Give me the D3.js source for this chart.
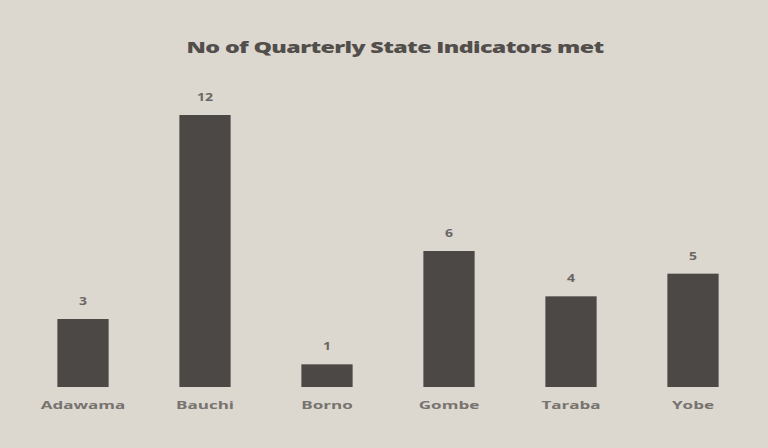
<!DOCTYPE html>
<html><head><meta charset="utf-8">
<script src="https://cdn.jsdelivr.net/npm/d3@7"></script>
<style>
html,body{margin:0;padding:0;background:#dcd7cf;}
svg{display:block;}
</style></head>
<body>
<svg id="chart" width="768" height="448"></svg>
<script>
const categories = ["Adawama","Bauchi","Borno","Gombe","Taraba","Yobe"];
const values = [3,12,1,6,4,5];
const title = "No of Quarterly State Indicators met";

const W = 768, H = 448;
const margin = {left: 22, right: 14, top: 70, bottom: 61};
const svg = d3.select("#chart");

svg.append("rect").attr("width", W).attr("height", H).attr("fill", "#dcd7cf");

const x = d3.scaleBand().domain(categories)
  .range([margin.left, W - margin.right]).paddingInner(0.58).paddingOuter(0.29);
const y = d3.scaleLinear().domain([0, 12]).range([H - margin.bottom, 115]);

svg.append("text").attr("transform", "translate(395,53) scale(1.55,1)")
  .attr("text-anchor", "middle")
  .attr("font-family", "Open Sans, sans-serif").attr("font-weight", 800)
  .attr("font-size", 15).attr("fill", "#524e4b").attr("letter-spacing", "-0.4")
  .text(title);

const g = svg.append("g");
g.selectAll("rect.bar").data(values).join("rect").attr("class", "bar")
  .attr("x", (d, i) => x(categories[i]))
  .attr("y", d => y(d))
  .attr("width", x.bandwidth())
  .attr("height", d => y(0) - y(d))
  .attr("fill", "#4b4845");

g.selectAll("text.val").data(values).join("text").attr("class", "val")
  .attr("transform", (d, i) => `translate(${x(categories[i]) + x.bandwidth() / 2},${y(d) - 14}) scale(1.4,1)`)
  .attr("text-anchor", "middle")
  .attr("font-family", "Open Sans, sans-serif").attr("font-weight", "bold")
  .attr("font-size", 10).attr("fill", "#6a6663")
  .text(d => d);

const xAxis = d3.axisBottom(x).tickSize(0).tickPadding(14);
const ax = svg.append("g").attr("transform", `translate(0,${y(0)})`).call(xAxis);
ax.select(".domain").remove();
ax.selectAll("text")
  .attr("transform", "scale(1.55,1)")
  .attr("font-family", "Open Sans, sans-serif").attr("font-weight", "bold")
  .attr("font-size", 11).attr("fill", "#77736f");
</script>
</body></html>
